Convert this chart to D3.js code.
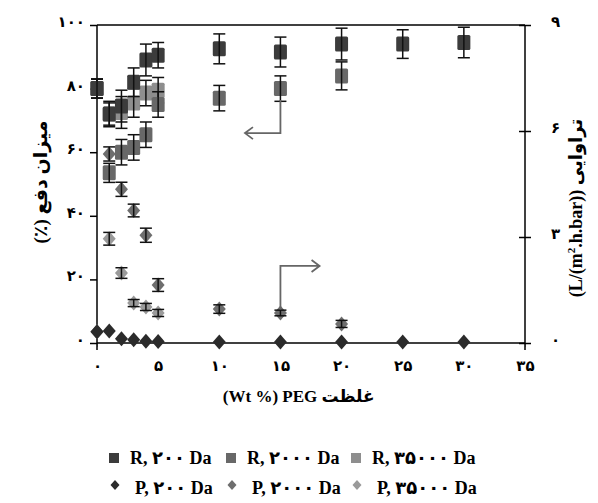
<!DOCTYPE html>
<html>
<head>
<meta charset="utf-8">
<script src="https://cdn.jsdelivr.net/npm/d3@7/dist/d3.min.js"></script>
<style>
  body { margin: 0; background: #fff; }
  svg text { font-family: "Liberation Serif", "DejaVu Sans", serif; font-weight: bold; fill: #000; }
</style>
</head>
<body>
<svg width="598" height="503"></svg>
<script>
// data
var xAll = [0, 1, 2, 3, 4, 5, 10, 15, 20, 25, 30];
var x2000 = [0, 1, 2, 3, 4, 5, 10, 15, 20];
var x35000 = [0, 1, 2, 3, 4, 5];

var r200 = [80, 72, 74.5, 82, 89, 90.5, 92.5, 91.5, 94, 94, 94.5];
var r200Err = [3, 3.5, 5, 4.5, 5, 4, 4.7, 4.7, 5, 4.5, 4.8];
var r2000 = [80, 53.5, 60, 61.5, 65.5, 75, 77, 80, 84];
var r2000Err = [3, 3, 4, 4, 4, 4, 4, 4, 4.4];
var r35000 = [80, 72, 72.5, 75.5, 78.6, 79.5];
var r35000Err = [3, 4, 5, 4.5, 4, 4];

var p200 = [0.32, 0.34, 0.12, 0.09, 0.05, 0.04, 0.03, 0.03, 0.03, 0.03, 0.03];
var p2000 = [0.32, 5.35, 4.35, 3.75, 3.05, 1.64, 0.96, 0.85, 0.54];
var p2000Err = [0, 0.2, 0.2, 0.18, 0.2, 0.18, 0.12, 0.08, 0.1];
var p35000 = [0.32, 2.95, 1.98, 1.13, 1.02, 0.85];
var p35000Err = [0, 0.18, 0.15, 0.1, 0.1, 0.1];

var xTicks = [0, 5, 10, 15, 20, 25, 30, 35];
var yTicks = [0, 20, 40, 60, 80, 100];
var y2Ticks = [0, 3, 6, 9];

var fa = function(d) { return String(d).replace(/\d/g, function(c) { return "۰۱۲۳۴۵۶۷۸۹"[c]; }); };

var svg = d3.select("svg"),
    margin = {top: 25, right: 73, bottom: 160, left: 97},
    width = +svg.attr("width") - margin.left - margin.right,
    height = +svg.attr("height") - margin.top - margin.bottom;

var x = d3.scaleLinear().domain([0, 35]).range([0, width]),
    y = d3.scaleLinear().domain([0, 100]).range([height, 0]),
    y2 = d3.scaleLinear().domain([0, 9]).range([height, 0]);

var g = svg.append("g").attr("transform", "translate(" + margin.left + "," + margin.top + ")");

// axes
var xAxis = g.append("g")
    .attr("transform", "translate(0," + height + ")")
    .call(d3.axisBottom(x).tickValues(xTicks).tickSize(4).tickPadding(13).tickFormat(fa));
xAxis.select(".domain").remove();
xAxis.selectAll("line").attr("stroke", "#aaa");
xAxis.selectAll("text").style("font-size", "15px");

var yAxis = g.append("g")
    .call(d3.axisLeft(y).tickValues(yTicks).tickSize(7).tickPadding(5).tickFormat(fa));
yAxis.select(".domain").remove();
yAxis.selectAll("line").attr("stroke-width", 1.5);
yAxis.selectAll("text").style("font-size", "15px").attr("dy", "0.1em");

var y2Axis = g.append("g")
    .attr("transform", "translate(" + width + ",0)")
    .call(d3.axisRight(y2).tickValues(y2Ticks).tickSize(6).tickPadding(20).tickFormat(fa));
y2Axis.select(".domain").remove();
y2Axis.selectAll("line").attr("x1", -6).attr("stroke-width", 1.5);
y2Axis.selectAll("text").style("font-size", "15px").attr("dy", "0.1em");

// frame
var frame = g.append("g").attr("stroke", "#000").attr("stroke-width", 1.5);
frame.append("line").attr("x1", 0).attr("x2", 0).attr("y1", 0).attr("y2", height + 7);
frame.append("line").attr("x1", width).attr("x2", width).attr("y1", 0).attr("y2", height + 7);
frame.append("line").attr("x1", 0).attr("x2", width).attr("y1", 0).attr("y2", 0);
frame.append("line").attr("x1", 0).attr("x2", width).attr("y1", height).attr("y2", height);

// series
function squares(xs, vals, errs, color) {
  var data = xs.map(function(d, i) { return {x: d, v: vals[i], e: errs[i]}; });
  g.append("g").selectAll("rect")
    .data(data).enter().append("rect")
      .attr("x", function(d) { return x(d.x) - 6.5; })
      .attr("y", function(d) { return y(d.v) - 7.5; })
      .attr("width", 13)
      .attr("height", 15)
      .attr("rx", 1.5)
      .attr("fill", color);
  errorBars(data, y);
}

function diamonds(xs, vals, errs, color) {
  var data = xs.map(function(d, i) { return {x: d, v: vals[i], e: errs ? errs[i] : 0}; });
  g.append("g").selectAll("path")
    .data(data).enter().append("path")
      .attr("transform", function(d) { return "translate(" + x(d.x) + "," + y2(d.v) + ")"; })
      .attr("d", "M0,-7.5L6.5,0L0,7.5L-6.5,0Z")
      .attr("fill", color);
  if (errs) errorBars(data.filter(function(d) { return d.e > 0; }), y2);
}

function errorBars(data, scale) {
  var eb = g.append("g").attr("stroke", "#111").attr("stroke-width", 1.5);
  eb.selectAll(".v").data(data).enter().append("line")
    .attr("x1", function(d) { return x(d.x); }).attr("x2", function(d) { return x(d.x); })
    .attr("y1", function(d) { return scale(d.v + d.e); }).attr("y2", function(d) { return scale(d.v - d.e); });
  [1, -1].forEach(function(s) {
    eb.selectAll(".c" + s).data(data).enter().append("line")
      .attr("x1", function(d) { return x(d.x) - 6; }).attr("x2", function(d) { return x(d.x) + 6; })
      .attr("y1", function(d) { return scale(d.v + s * d.e); }).attr("y2", function(d) { return scale(d.v + s * d.e); });
  });
}

diamonds(x35000, p35000, p35000Err, "#9a9a9a");
diamonds(x2000, p2000, p2000Err, "#6e6e6e");
diamonds(xAll, p200, null, "#2b2b2b");
squares(x35000, r35000, r35000Err, "#8e8e8e");
squares(x2000, r2000, r2000Err, "#686868");
squares(xAll, r200, r200Err, "#3c3c3c");

// arrows
var arr = g.append("g").attr("stroke", "#666").attr("stroke-width", 1.8).attr("fill", "none");
arr.append("path")
  .attr("d", "M" + x(15) + "," + y(76.4) + "V" + y(66) + "H" + x(12.1) +
             "M" + (x(12.1) + 8) + "," + (y(66) - 6) + "L" + x(12.1) + "," + y(66) + "L" + (x(12.1) + 8) + "," + (y(66) + 6));
arr.append("path")
  .attr("d", "M" + x(15) + "," + y2(0.95) + "V" + y2(2.18) + "H" + x(18.2) +
             "M" + (x(18.2) - 8) + "," + (y2(2.18) - 6) + "L" + x(18.2) + "," + y2(2.18) + "L" + (x(18.2) - 8) + "," + (y2(2.18) + 6));

// axis titles
svg.append("text")
  .attr("transform", "translate(47,182) rotate(-90)")
  .attr("text-anchor", "middle")
  .style("direction", "rtl")
  .style("font-size", "19px")
  .text("میزان دفع (٪)");

svg.append("text")
  .attr("transform", "translate(582,208) rotate(-90)")
  .attr("text-anchor", "middle")
  .style("font-size", "18px")
  .html("(L/(m<tspan dy='-7' style='font-size:11px'>2</tspan><tspan dy='7'>.h.bar)) تراوایی</tspan>");

svg.append("text")
  .attr("x", margin.left + x(16.5))
  .attr("y", 402)
  .attr("text-anchor", "middle")
  .style("font-size", "17px")
  .text("(Wt %) PEG غلظت");

// legend
var legendNames = ["R, ۲۰۰ Da", "R, ۲۰۰۰ Da", "R, ۳۵۰۰۰ Da", "P, ۲۰۰ Da", "P, ۲۰۰۰ Da", "P, ۳۵۰۰۰ Da"];
var legendColors = ["#3c3c3c", "#686868", "#8e8e8e", "#2b2b2b", "#6e6e6e", "#9a9a9a"];
var legendX = [114, 231, 356, 115, 232, 357];
var legend = svg.append("g");
legendNames.forEach(function(name, i) {
  var row = i < 3 ? 0 : 1, cy = row ? 488 : 458;
  if (row === 0) {
    legend.append("rect").attr("x", legendX[i] - 5).attr("y", cy - 5).attr("width", 10).attr("height", 10).attr("fill", legendColors[i]);
  } else {
    legend.append("path").attr("transform", "translate(" + legendX[i] + "," + (cy - 3) + ")")
      .attr("d", "M0,-5L4.5,0L0,5L-4.5,0Z").attr("fill", legendColors[i]);
  }
  legend.append("text")
    .attr("x", legendX[i] + (row ? 20 : 16))
    .attr("y", cy + 6)
    .style("font-size", "18px")
    .text(name);
});
</script>
</body>
</html>
